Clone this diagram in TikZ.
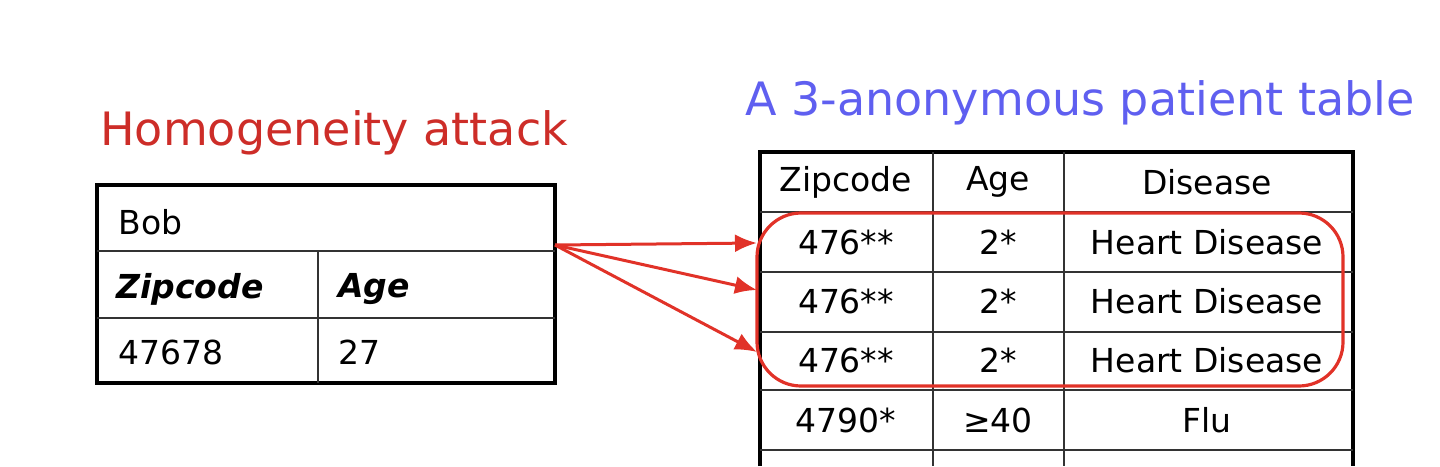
\documentclass[tikz,border=0pt]{standalone}
\usepackage{fontspec}
\usetikzlibrary{arrows.meta}
\setmainfont{DejaVu Sans}
\definecolor{myred}{RGB}{205,45,40}
\definecolor{arrred}{RGB}{225,50,40}
\definecolor{myblue}{RGB}{95,95,240}
\begin{document}
\begin{tikzpicture}[x=0.5pt,y=-0.5pt,
  cell/.style={font=\fontsize{16.5}{19}\selectfont,inner sep=0pt},
  lcell/.style={cell,anchor=west},
  outer/.style={line width=1.6pt},
  inner/.style={line width=0.7pt,black!80},
  arr/.style={arrred,line width=1.5pt,-{Latex[length=11pt,width=9pt]}}]
\useasboundingbox (0,0) rectangle (1440,466);
\node[myred,font=\fontsize{23}{26}\selectfont,anchor=west,inner sep=0pt] (t1) at (100,133) {Homogeneity attack};
\node[myblue,font=\fontsize{23}{26}\selectfont,anchor=west,inner sep=0pt] (t2) at (745,103) {A 3-anonymous patient table};
% left table
\draw[outer] (97,185) rectangle (555,383);
\draw[inner] (97,251) -- (555,251) (97,318) -- (555,318) (318,251) -- (318,383);
\node[lcell] (bob) at (118,222) {Bob};
\node[lcell,font=\fontsize{16.5}{19}\selectfont\bfseries\itshape] (zc) at (116,289) {Zipcode};
\node[lcell,font=\fontsize{16.5}{19}\selectfont\bfseries\itshape] (ag) at (338,289) {Age};
\node[lcell] (zv) at (118,352) {47678};
\node[lcell] (av) at (338,352) {27};
\coordinate (src) at (555,245);
% right table
\draw[outer] (760,466) -- (760,152) -- (1353,152) -- (1353,466);
\draw[inner] (760,212) -- (1353,212) (760,272) -- (1353,272) (760,332) -- (1353,332) (760,390) -- (1353,390) (760,450) -- (1353,450)
  (933,152) -- (933,466) (1064,152) -- (1064,466);
\foreach \y/\a/\b/\c/\n in {182/Zipcode/Age/Disease/h,242/476**/2*/Heart Disease/r1,301/476**/2*/Heart Disease/r2,360/476**/2*/Heart Disease/r3,420/4790*/≥40/Flu/r4}{
  \node[cell] (\n a) at (846,\y) {\a};
  \node[cell] (\n b) at (998,\y) {\b};
  \node[cell] (\n c) at (1207,\y) {\c};
}
\draw[arrred,line width=1.6pt,rounded corners=22pt] (757,213) rectangle (1343,386);
\coordinate (d1) at (757,243);
\coordinate (d2) at (757,290);
\coordinate (d3) at (757,352);
\draw[arr] (src) -- (d1);
\draw[arr] (src) -- (d2);
\draw[arr] (src) -- (d3);
\end{tikzpicture}
\end{document}
